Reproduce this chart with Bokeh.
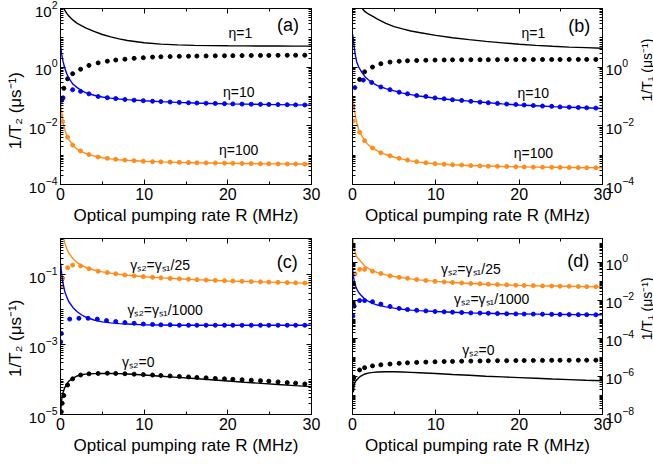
import math
from bokeh.plotting import figure
from bokeh.models import Range1d, LogAxis, LinearAxis, FixedTicker, CustomJSTickFormatter, Label
from bokeh.layouts import column, row
from bokeh.embed import file_html
from bokeh.resources import INLINE

FONT = "Liberation Sans"
BLACK = "#000000"
BLUE = "#0000ff"
ORANGE = "#ff8c1a"
NBSP = "\u00a0"

# ---------------- data ----------------
X_TICKS = [0, 10, 20, 30]
Y_TICKS_A = [1e-4, 1e-2, 1e0, 1e2]
Y_TICKS_B = [1e-4, 1e-2, 1e0]
Y_TICKS_C = [1e-5, 1e-3, 1e-1]
Y_TICKS_D = [1e-8, 1e-6, 1e-4, 1e-2, 1e0]
X_LABEL = "Optical pumping rate R (MHz)"
Y_LABEL_T2 = "1/T\u2082 (\u03bcs\u207b\u00b9)"
Y_LABEL_T1 = "1/T\u2081 (\u03bcs\u207b\u00b9)"

R_LINE = [0.02, 0.1, 0.2, 0.3, 0.5, 0.75, 1.0, 1.5, 2, 2.5, 3, 4, 5, 6, 7, 8,
          10, 12, 14, 16, 18, 20, 22, 24, 26, 28, 30]
R_DOT = [0.85, 1.45, 2.4, 3.4, 4.5, 5.6, 6.6, 7.7, 8.8, 9.9, 11.0, 12.0, 13.1, 14.2,
         15.3, 16.3, 17.4, 18.5, 19.6, 20.6, 21.7, 22.8, 23.9, 24.9, 26.0, 27.1, 28.1, 29.2]

# panel (a): 1/T2 vs R, eta = 1, 10, 100
a_line_eta1 = [2000, 500, 220, 140, 88, 68, 55, 40, 31, 26, 22, 16.5, 13, 10.8, 9.2, 8.1,
               6.8, 6.1, 5.75, 5.55, 5.42, 5.35, 5.3, 5.27, 5.24, 5.22, 5.2]
a_line_eta10 = [5.6, 3.3, 2.2, 1.6, 0.95, 0.6, 0.42, 0.26, 0.2, 0.16, 0.135, 0.11, 0.096, 0.088,
                0.082, 0.078, 0.072, 0.067, 0.063, 0.06, 0.058, 0.056, 0.055, 0.054, 0.053, 0.052, 0.051]
a_line_eta100 = [0.057, 0.033, 0.02, 0.013, 0.0075, 0.0047, 0.0034, 0.0021, 0.0016, 0.00133,
                 0.00115, 0.00094, 0.00082, 0.00075, 0.0007, 0.00067, 0.00062, 0.00059, 0.00057,
                 0.00055, 0.00054, 0.00053, 0.00052, 0.00051, 0.000505, 0.0005, 0.00049]
a_dot_eta1_x = [0.2, 0.4] + R_DOT
a_dot_eta1 = [0.085, 0.19, 0.40, 0.6, 0.85, 1.15, 1.4, 1.6, 1.75, 1.87, 2.0, 2.1, 2.2, 2.26,
              2.3, 2.34, 2.37, 2.39, 2.41, 2.43, 2.45, 2.47, 2.48, 2.5, 2.51, 2.52, 2.53,
              2.54, 2.55, 2.56]
a_dot_eta10_x = [0.15, 0.3] + R_DOT[1:]
a_dot_eta10 = [0.075, 0.09, 0.17, 0.15, 0.123, 0.1, 0.091, 0.085, 0.079, 0.075, 0.072, 0.069,
               0.067, 0.065, 0.063, 0.061, 0.06, 0.059, 0.058, 0.057, 0.056, 0.055, 0.0545,
               0.054, 0.0535, 0.053, 0.0525, 0.052, 0.0515]
a_dot_eta100_x = [0.05, 0.25] + R_DOT
a_dot_eta100 = [0.023, 0.014, 0.0041, 0.0022, 0.0014, 0.00105, 0.00087, 0.00078, 0.00072,
                0.00068, 0.00065, 0.00062, 0.0006, 0.00059, 0.00058, 0.00057, 0.00056, 0.00055,
                0.000545, 0.00054, 0.000532, 0.000527, 0.00052, 0.000515, 0.00051, 0.000507,
                0.000503, 0.0005, 0.000497, 0.000493]

# panel (b): 1/T1 vs R, eta = 1, 10, 100
b_line_eta1 = [3000, 900, 600, 350, 220, 150, 112, 77, 62, 52, 43, 31, 24, 20, 17, 15,
               12, 10, 8.6, 7.5, 6.7, 6.0, 5.5, 5.1, 4.8, 4.6, 4.4]
b_line_eta10 = [13, 9, 4.8, 3.0, 1.5, 1.0, 0.75, 0.47, 0.35, 0.28, 0.235, 0.185, 0.155, 0.13,
                0.115, 0.103, 0.087, 0.077, 0.069, 0.062, 0.056, 0.051, 0.048, 0.045, 0.043,
                0.041, 0.039]
b_line_eta100 = [0.1, 0.06, 0.037, 0.026, 0.013, 0.0075, 0.0052, 0.003, 0.0021, 0.0017, 0.0014,
                 0.00105, 0.00085, 0.00073, 0.00064, 0.00058, 0.00051, 0.00047, 0.000445,
                 0.000425, 0.00041, 0.0004, 0.00039, 0.000385, 0.00038, 0.000375, 0.00037]
b_dot_eta1_x = R_DOT
b_dot_eta1 = [0.38, 0.69, 1.0, 1.3, 1.48, 1.58, 1.64, 1.68, 1.71, 1.73, 1.75, 1.76, 1.77, 1.78,
              1.78, 1.79, 1.79, 1.8, 1.8, 1.8, 1.81, 1.81, 1.81, 1.81, 1.82, 1.82, 1.82, 1.82]
b_dot_eta10_x = [0.04, 0.28, 1.3, 2.3] + R_DOT[3:]
b_dot_eta10 = [0.047, 0.2, 0.36, 0.3, 0.21, 0.17, 0.14, 0.123, 0.107, 0.1, 0.089, 0.083, 0.077,
               0.073, 0.068, 0.064, 0.061, 0.058, 0.055, 0.053, 0.051, 0.049, 0.047, 0.046,
               0.044, 0.043, 0.042, 0.041, 0.04]
b_dot_eta100_x = [0.08] + R_DOT
b_dot_eta100 = [0.0145, 0.006, 0.0031, 0.00175, 0.0012, 0.00095, 0.00078, 0.00068, 0.0006,
                0.00055, 0.00051, 0.00049, 0.00047, 0.00046, 0.00044, 0.00043, 0.00042,
                0.000415, 0.00041, 0.000402, 0.000397, 0.000392, 0.000388, 0.000385, 0.000382,
                0.000379, 0.000376, 0.000373, 0.000371]

# panel (c): 1/T2 vs R, gamma_s2 = gamma_s1/25, gamma_s1/1000, 0
c_line_25 = [8, 4, 2.2, 1.5, 0.85, 0.56, 0.42, 0.29, 0.225, 0.19, 0.165, 0.138, 0.122, 0.112,
             0.104, 0.097, 0.088, 0.082, 0.077, 0.073, 0.07, 0.067, 0.065, 0.063, 0.061, 0.059, 0.057]
c_line_1000 = [0.21, 0.13, 0.085, 0.058, 0.034, 0.023, 0.017, 0.0115, 0.0088, 0.0072, 0.0062,
               0.0051, 0.0045, 0.0042, 0.004, 0.0039, 0.0037, 0.00365, 0.0036, 0.0036, 0.0036,
               0.0036, 0.0036, 0.0036, 0.0036, 0.0036, 0.0036]
c_line_0 = [1.1e-5, 2.2e-5, 3.3e-5, 4.2e-5, 5.8e-5, 7.5e-5, 9e-5, 1.1e-4, 1.27e-4, 1.37e-4,
            1.43e-4, 1.48e-4, 1.5e-4, 1.5e-4, 1.48e-4, 1.44e-4, 1.35e-4, 1.25e-4, 1.16e-4,
            1.07e-4, 9.9e-5, 9.1e-5, 8.4e-5, 7.8e-5, 7.2e-5, 6.7e-5, 6.3e-5]
c_dot_25_x = [0.05, 0.25] + R_DOT
c_dot_25 = [0.045, 0.08, 0.16, 0.19, 0.18, 0.15, 0.127, 0.116, 0.107, 0.099, 0.094, 0.089, 0.085,
            0.082, 0.079, 0.077, 0.075, 0.073, 0.071, 0.0695, 0.068, 0.0665, 0.0655, 0.064,
            0.063, 0.062, 0.061, 0.06, 0.059, 0.058]
c_dot_1000_x = [0.02, 0.1, 1.1, 2.2, 3.3, 4.4, 5.5, 6.6, 7.7, 8.8, 9.9, 11.0, 12.0, 13.1, 14.2,
                15.3, 16.3, 17.4, 18.5, 19.6, 20.6, 21.7, 22.8, 23.9, 24.9, 26.0, 27.1, 28.1, 29.2]
c_dot_1000 = [0.0012, 0.0021, 0.0054, 0.0057, 0.0057, 0.0054, 0.0049, 0.0046, 0.0043, 0.0041,
              0.0039, 0.0038, 0.0037, 0.0037, 0.0036, 0.0036, 0.0036, 0.0036, 0.0036, 0.0036,
              0.0036, 0.0036, 0.0036, 0.0036, 0.0036, 0.0036, 0.0036, 0.0036, 0.0036]
c_dot_0_x = [0.1, 0.2, 0.4] + R_DOT
c_dot_0 = [1.2e-5, 2.1e-5, 3.5e-5, 7e-5, 1.05e-4, 1.35e-4, 1.46e-4, 1.5e-4, 1.52e-4, 1.5e-4,
           1.47e-4, 1.43e-4, 1.39e-4, 1.35e-4, 1.31e-4, 1.27e-4, 1.23e-4, 1.19e-4, 1.15e-4,
           1.12e-4, 1.08e-4, 1.05e-4, 1.02e-4, 9.9e-5, 9.6e-5, 9.3e-5, 9e-5, 8.6e-5, 8.2e-5,
           7.9e-5, 7.5e-5]

# panel (d): 1/T1 vs R, gamma_s2 = gamma_s1/25, gamma_s1/1000, 0
d_line_25 = [25, 12, 5.5, 3.5, 2.0, 1.5, 1.1, 0.62, 0.45, 0.35, 0.29, 0.22, 0.18, 0.155, 0.135,
             0.12, 0.1, 0.088, 0.078, 0.071, 0.066, 0.062, 0.059, 0.057, 0.055, 0.053, 0.052]
d_line_1000 = [0.45, 0.2, 0.11, 0.07, 0.04, 0.026, 0.019, 0.0115, 0.0085, 0.0068, 0.0057,
               0.0046, 0.0039, 0.0034, 0.0031, 0.0029, 0.0026, 0.0024, 0.0022, 0.0021, 0.002,
               0.00195, 0.0019, 0.00185, 0.0018, 0.00178, 0.00175]
d_line_0 = [9e-7, 1.5e-7, 3.5e-7, 5e-7, 6.5e-7, 8.5e-7, 1.05e-6, 1.35e-6, 1.55e-6, 1.65e-6,
            1.72e-6, 1.78e-6, 1.77e-6, 1.72e-6, 1.65e-6, 1.57e-6, 1.42e-6, 1.27e-6, 1.15e-6,
            1.03e-6, 9.5e-7, 8.7e-7, 8e-7, 7.3e-7, 6.8e-7, 6.3e-7, 6e-7]
d_dot_25_x = [0.1, 0.3] + R_DOT
d_dot_25 = [0.07, 0.25, 0.43, 0.43, 0.34, 0.26, 0.195, 0.165, 0.145, 0.125, 0.112, 0.101, 0.094,
            0.088, 0.083, 0.078, 0.074, 0.071, 0.068, 0.066, 0.063, 0.061, 0.06, 0.058, 0.057,
            0.056, 0.055, 0.054, 0.053, 0.052]
d_dot_1000_x = [0.05, 0.2] + R_DOT
d_dot_1000 = [0.0015, 0.005, 0.0098, 0.0098, 0.0085, 0.0064, 0.0048, 0.0038, 0.0033, 0.003,
              0.0028, 0.0026, 0.0025, 0.0024, 0.0023, 0.0022, 0.00215, 0.0021, 0.00203,
              0.00198, 0.00195, 0.00192, 0.0019, 0.00188, 0.00185, 0.00183, 0.0018, 0.00178,
              0.00177, 0.00175]
d_dot_0_x = [0.15] + R_DOT
d_dot_0 = [9e-7, 2.2e-6, 2.9e-6, 3.6e-6, 4.1e-6, 4.5e-6, 4.9e-6, 5.2e-6, 5.5e-6, 5.7e-6, 5.9e-6,
           6.1e-6, 6.2e-6, 6.35e-6, 6.45e-6, 6.55e-6, 6.65e-6, 6.75e-6, 6.8e-6, 6.85e-6, 6.9e-6,
           6.95e-6, 7e-6, 7.05e-6, 7.1e-6, 7.1e-6, 7.15e-6, 7.2e-6, 7.2e-6]

ETA_LABELS = ["\u03b7=1", "\u03b7=10", "\u03b7=100"]
GAMMA_LABELS = ["\u03b3\u209b\u2082=\u03b3\u209b\u2081/25", "\u03b3\u209b\u2082=\u03b3\u209b\u2081/1000",
                "\u03b3\u209b\u2082=0"]


# ---------------- helpers ----------------
def log_minor(lo_exp, hi_exp, majors):
    out = []
    for e in range(lo_exp, hi_exp + 1):
        for m in range(1, 10):
            v = m * 10.0 ** e
            if m == 1 and any(abs(v - t) / t < 1e-9 for t in majors):
                continue
            out.append(v)
    return out


def style_axis(ax, show_labels, label_size="16px"):
    ax.major_tick_in = 5
    ax.major_tick_out = 0
    ax.minor_tick_in = 3
    ax.minor_tick_out = 0
    ax.axis_line_color = BLACK
    ax.major_tick_line_color = BLACK
    ax.minor_tick_line_color = BLACK
    ax.major_label_text_font = FONT
    ax.major_label_text_color = BLACK
    ax.axis_label_text_font = FONT
    ax.axis_label_text_font_size = "17px"
    ax.axis_label_text_font_style = "normal"
    ax.axis_label_text_color = BLACK
    ax.axis_label_standoff = 3
    if show_labels:
        ax.major_label_text_font_size = label_size
        ax.major_label_standoff = 3
    else:
        ax.formatter = CustomJSTickFormatter(code="return ''")
        ax.major_label_text_font_size = "0px"
        ax.major_label_standoff = 0


def make_panel(y_lo, y_hi, y_ticks, lo_exp, hi_exp, side, ylabel, series, texts, letter,
               fw, fh, bl, br, bt, bb):
    p = figure(x_range=Range1d(0, 30), y_range=Range1d(y_lo, y_hi), y_axis_type="log",
               frame_width=fw, frame_height=fh, min_border_left=bl, min_border_right=br,
               min_border_top=bt, min_border_bottom=bb, output_backend="svg",
               toolbar_location=None, y_axis_location=side)
    p.grid.visible = False
    p.outline_line_color = BLACK
    p.outline_line_width = 1
    p.background_fill_color = "white"
    p.border_fill_color = "white"

    xt = FixedTicker(ticks=X_TICKS, minor_ticks=[5, 15, 25])
    yt = FixedTicker(ticks=y_ticks, minor_ticks=log_minor(lo_exp, hi_exp, y_ticks))

    xa = p.xaxis[0]
    xa.ticker = xt
    xa.axis_label = X_LABEL
    style_axis(xa, True, "16px")

    ya = p.yaxis[0]
    ya.ticker = yt
    style_axis(ya, True, "15px")
    if ylabel is not None:
        ya.axis_label = ylabel
        ya.axis_label_standoff = 1

    other = "left" if side == "right" else "right"
    ya2 = LogAxis(ticker=yt)
    style_axis(ya2, False)
    p.add_layout(ya2, other)
    xa2 = LinearAxis(ticker=xt)
    style_axis(xa2, False)
    p.add_layout(xa2, "above")

    for (xs, ys, color, kind) in series:
        if kind == "line":
            p.line(xs, ys, line_color=color, line_width=1.4)
        else:
            p.scatter(xs, ys, size=4, fill_color=color, line_color=color, marker="circle")

    for (tx, ty, txt) in texts:
        p.add_layout(Label(x=tx, y=ty, text=txt, text_font=FONT, text_font_size="14px",
                           text_align="center", text_baseline="middle", text_color=BLACK))
    p.add_layout(Label(x=letter[0], y=letter[1], text=letter[2], text_font=FONT,
                       text_font_size="18px", text_align="center", text_baseline="middle",
                       text_color=BLACK))
    return p


def title_strip(text, w, h, fx, fy, size):
    """Narrow canvas holding a right-hand y-axis title that reads bottom to top."""
    s = figure(width=w, height=h, x_range=Range1d(0, 1), y_range=Range1d(0, 1),
               x_axis_type=None, y_axis_type=None, min_border_left=0, min_border_right=0,
               min_border_top=0, min_border_bottom=0, output_backend="svg",
               toolbar_location=None)
    s.grid.visible = False
    s.outline_line_color = None
    s.background_fill_color = "white"
    s.border_fill_color = "white"
    s.add_layout(Label(x=fx, y=fy, text=text, text_font=FONT, text_font_size=size,
                       text_align="center", text_baseline="middle", angle=math.pi / 2,
                       text_color=BLACK))
    return s


pa = make_panel(1e-4, 1e2, Y_TICKS_A, -4, 2, "left", Y_LABEL_T2 + NBSP * 6,
                [(R_LINE, a_line_eta1, BLACK, "line"),
                 (a_dot_eta1_x, a_dot_eta1, BLACK, "dot"),
                 (R_LINE, a_line_eta10, BLUE, "line"),
                 (a_dot_eta10_x, a_dot_eta10, BLUE, "dot"),
                 (R_LINE, a_line_eta100, ORANGE, "line"),
                 (a_dot_eta100_x, a_dot_eta100, ORANGE, "dot")],
                [(21.5, 14.4, ETA_LABELS[0]), (21.3, 0.14, ETA_LABELS[1]),
                 (21.3, 1.45e-3, ETA_LABELS[2])],
                (27.2, 27, "(a)"), 251, 176, 60, 20, 8, 48)

pb = make_panel(1e-4, 99, Y_TICKS_B, -4, 2, "right", None,
                [(R_LINE, b_line_eta1, BLACK, "line"),
                 (b_dot_eta1_x, b_dot_eta1, BLACK, "dot"),
                 (R_LINE, b_line_eta10, BLUE, "line"),
                 (b_dot_eta10_x, b_dot_eta10, BLUE, "dot"),
                 (R_LINE, b_line_eta100, ORANGE, "line"),
                 (b_dot_eta100_x, b_dot_eta100, ORANGE, "dot")],
                [(21.7, 14.4, ETA_LABELS[0]), (21.7, 0.13, ETA_LABELS[1]),
                 (21.7, 1.15e-3, ETA_LABELS[2])],
                (27.2, 25, "(b)"), 250, 176, 21, 33, 8, 48)

pc = make_panel(1e-5, 1.1, Y_TICKS_C, -5, 0, "left", Y_LABEL_T2 + NBSP * 5,
                [(R_LINE, c_line_25, ORANGE, "line"),
                 (c_dot_25_x, c_dot_25, ORANGE, "dot"),
                 (R_LINE, c_line_1000, BLUE, "line"),
                 (c_dot_1000_x, c_dot_1000, BLUE, "dot"),
                 (R_LINE, c_line_0, BLACK, "line"),
                 (c_dot_0_x, c_dot_0, BLACK, "dot")],
                [(11.9, 0.19, GAMMA_LABELS[0]), (12.5, 9.8e-3, GAMMA_LABELS[1]),
                 (9.3, 3.2e-4, GAMMA_LABELS[2])],
                (27.1, 0.23, "(c)"), 251, 176, 60, 20, 6, 50)

pd_ = make_panel(1e-8, 18, Y_TICKS_D, -8, 1, "right", None,
                 [(R_LINE, d_line_25, ORANGE, "line"),
                  (d_dot_25_x, d_dot_25, ORANGE, "dot"),
                  (R_LINE, d_line_1000, BLUE, "line"),
                  (d_dot_1000_x, d_dot_1000, BLUE, "dot"),
                  (R_LINE, d_line_0, BLACK, "line"),
                  (d_dot_0_x, d_dot_0, BLACK, "dot")],
                 [(14.2, 0.44, GAMMA_LABELS[0]), (16.7, 0.0118, GAMMA_LABELS[1]),
                  (15.1, 2.6e-5, GAMMA_LABELS[2])],
                 (27.1, 1.15, "(d)"), 250, 176, 21, 33, 6, 50)

tb = title_strip(Y_LABEL_T1, 18, 232, 0.5, 0.65, "14px")
td = title_strip(Y_LABEL_T1, 18, 232, 0.5, 0.6, "14px")

layout = column(row(pa, pb, tb), row(pc, pd_, td))
open("out.html", "w").write(file_html(layout, INLINE))
